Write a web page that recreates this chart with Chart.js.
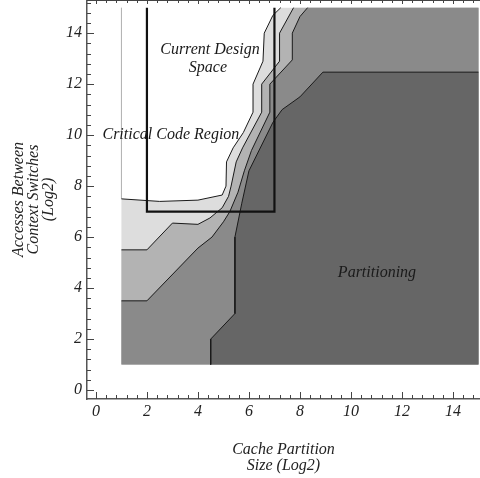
<!DOCTYPE html>
<html lang="en">
  <head>
    <meta charset="UTF-8" />
    <title>Cache Partitioning Design Space</title>
    <script src="https://cdn.jsdelivr.net/npm/chart.js@4.4.1/dist/chart.umd.min.js"></script>
    <style>
      body {
        margin: 0;
        background: #fff;
      }
      #wrap {
        width: 480px;
        height: 478px;
      }
    </style>
  </head>
  <body>
    <div id="wrap"><canvas id="contour" width="480" height="478"></canvas></div>

    <script>
      // contour boundaries, [cache partition size, accesses between switches] (log2)
      const edgeWhite = [[1, 7.5], [2.5, 7.4], [4, 7.45], [4.95, 7.65], [5.1, 8.0], [5.12, 8.95], [5.38, 9.5], [5.78, 10.1], [6.16, 10.9], [6.16, 12.0], [6.55, 12.9], [6.6, 14.0], [6.94, 14.7], [7.25, 15]];
      const edgeLight = [[1, 5.5], [2, 5.5], [3, 6.55], [4, 6.5], [4.47, 6.75], [4.95, 7.15], [5.2, 7.6], [5.3, 8.0], [5.5, 8.95], [5.75, 9.5], [6.5, 10.9], [6.5, 12.0], [7.2, 12.9], [7.2, 14.0], [7.75, 15]];
      const edgeMid = [[1, 3.5], [2, 3.5], [4, 5.57], [4.55, 6.0], [5.0, 6.6], [5.25, 7.0], [5.57, 7.76], [5.82, 8.6], [6.1, 9.4], [6.82, 10.9], [6.82, 12.0], [7.7, 12.95], [7.7, 14.0], [8.0, 14.65], [8.3, 15]];
      const edgeDark = [[15, 12.47], [8.9, 12.47], [8.0, 11.5], [7.3, 11.0], [6.94, 10.5], [6.0, 8.6], [5.72, 7.33], [5.45, 6.0], [5.45, 3.0], [4.5, 2.0], [4.5, 1]];
      const designBox = [[2, 15], [2, 7], [7, 7], [7, 15]];
      const gridMin = 1;
      const gridMax = 15;
      const xTicks = [0, 2, 4, 6, 8, 10, 12, 14];
      const yTicks = [0, 2, 4, 6, 8, 10, 12, 14];

      const toXY = (pts) => pts.map(([x, y]) => ({ x: x, y: y }));

      // close a boundary along the lower right corner of the sampled grid
      const closeBelow = (pts) => pts.concat([[gridMax, gridMax], [gridMax, gridMin], [gridMin, gridMin], pts[0]]);
      const closeDark = (pts) => pts.concat([[gridMax, gridMin], pts[0]]);

      const lineDs = (pts, color, width) => ({
        data: toXY(pts),
        showLine: true,
        borderColor: color,
        borderWidth: width,
        pointRadius: 0,
        fill: false,
      });

      const fillDs = (pts, color) => ({
        data: toXY(pts),
        showLine: true,
        borderWidth: 0,
        borderColor: "rgba(0,0,0,0)",
        backgroundColor: color,
        pointRadius: 0,
        fill: "shape",
      });

      const serif = "'Liberation Serif', 'Times New Roman', serif";

      const tickMarks = {
        id: "tickMarks",
        afterDraw(chart) {
          const { ctx, chartArea: a, scales } = chart;
          const x = scales.x;
          const y = scales.y;
          ctx.save();
          ctx.strokeStyle = "#444";
          ctx.lineWidth = 1;
          ctx.beginPath();
          for (let i = 0; i <= 40; i++) {
            const v = i * 0.4;
            const major = i % 5 === 0;
            const len = major ? 7 : 4;
            if (v <= x.max) {
              const px = Math.round(x.getPixelForValue(v)) + 0.5;
              ctx.moveTo(px, a.bottom);
              ctx.lineTo(px, a.bottom - len);
              ctx.moveTo(px, a.top);
              ctx.lineTo(px, a.top + (major ? 4 : 3));
            }
            if (v <= y.max) {
              const py = Math.round(y.getPixelForValue(v)) + 0.5;
              ctx.moveTo(a.left, py);
              ctx.lineTo(a.left + len, py);
            }
          }
          ctx.moveTo(a.left, a.top + 0.5);
          ctx.lineTo(a.right, a.top + 0.5);
          ctx.stroke();
          ctx.restore();
        },
      };

      const regionText = {
        id: "regionText",
        afterDatasetsDraw(chart) {
          const { ctx, scales } = chart;
          const put = (text, vx, vy) => ctx.fillText(text, scales.x.getPixelForValue(vx), scales.y.getPixelForValue(vy));
          ctx.save();
          ctx.font = "italic 16px " + serif;
          ctx.fillStyle = "#1a1a1a";
          ctx.textAlign = "center";
          ctx.textBaseline = "middle";
          put("Current Design", 4.47, 13.33);
          put("Space", 4.39, 12.63);
          put("Critical Code Region", 2.94, 10.0);
          put("Partitioning", 11.02, 4.59);
          ctx.restore();
        },
      };

      const tickFont = { family: serif, style: "italic", size: 16 };

      new Chart(document.getElementById("contour"), {
        type: "scatter",
        data: {
          datasets: [
            lineDs(designBox, "#111", 2.2),
            lineDs(edgeWhite, "#1a1a1a", 1),
            lineDs(edgeLight, "#1a1a1a", 1),
            lineDs(edgeMid, "#1a1a1a", 1),
            lineDs(edgeDark, "#1a1a1a", 1),
            lineDs([edgeWhite[0], [gridMin, gridMax]], "#b0b0b0", 1),
            fillDs(closeDark(edgeDark), "#666666"),
            fillDs(closeBelow(edgeMid), "#8a8a8a"),
            fillDs(closeBelow(edgeLight), "#b3b3b3"),
            fillDs(closeBelow(edgeWhite), "#dddddd"),
          ],
        },
        options: {
          responsive: false,
          animation: false,
          layout: { padding: 0 },
          plugins: {
            legend: { display: false },
            tooltip: { enabled: false },
          },
          scales: {
            x: {
              type: "linear",
              min: -0.35,
              max: 15.06,
              afterFit(s) {
                s.height = 79;
                s.paddingLeft = 0;
                s.paddingRight = 0;
              },
              afterBuildTicks(s) {
                s.ticks = xTicks.map((v) => ({ value: v }));
              },
              grid: { display: false, drawTicks: false },
              border: { display: true, color: "#555", width: 1.5 },
              ticks: { padding: 3, font: tickFont, color: "#222", maxRotation: 0, autoSkip: false },
              title: {
                display: true,
                text: ["Cache Partition", "Size (Log2)"],
                font: { family: serif, style: "italic", size: 16, lineHeight: "16px" },
                padding: { top: 0, bottom: 4 },
                color: "#222",
              },
            },
            y: {
              type: "linear",
              min: -0.35,
              max: 15.3,
              afterFit(s) {
                s.width = 87;
                s.paddingTop = 0;
                s.paddingBottom = 0;
              },
              afterBuildTicks(s) {
                s.ticks = yTicks.map((v) => ({ value: v }));
              },
              grid: { display: false, drawTicks: false },
              border: { display: true, color: "#555", width: 1.5 },
              ticks: { padding: 5, font: tickFont, color: "#222", autoSkip: false },
              title: {
                display: true,
                text: ["Accesses Between", "Context Switches", "(Log2)"],
                font: { family: serif, style: "italic", size: 16, lineHeight: "15px" },
                padding: { top: 11, bottom: 0 },
                color: "#222",
              },
            },
          },
        },
        plugins: [tickMarks, regionText],
      });
    </script>
  </body>
</html>
